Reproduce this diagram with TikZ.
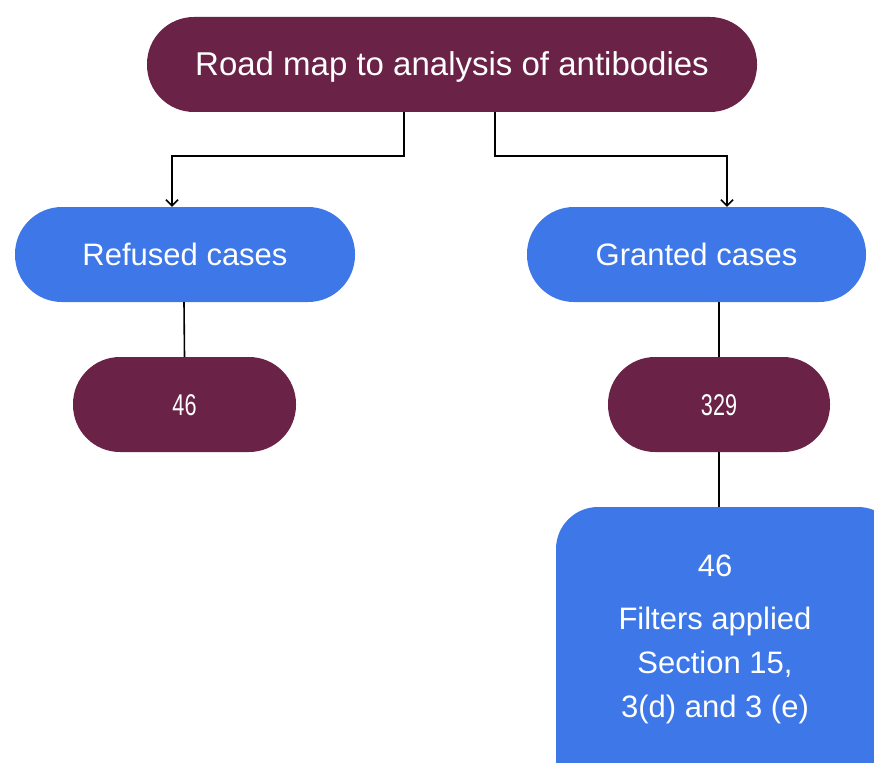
\documentclass[tikz,border=0pt]{standalone}
\usepackage{fontspec}
\usepackage{graphicx}
\setmainfont{Liberation Sans}
\usetikzlibrary{arrows.meta}
\definecolor{maroon}{HTML}{6A2246}
\definecolor{bblue}{HTML}{3E78E8}
\newcommand{\narrownum}[1]{\scalebox{0.72}[1]{#1}}
\tikzset{
  pill/.style={rectangle, rounded corners=47pt, minimum height=95pt, inner sep=0pt, text=white, text depth=0pt},
  maroonpill/.style={pill, fill=maroon},
  bluepill/.style={pill, fill=bblue},
  conn/.style={line width=1.6pt, black},
  arr/.style={conn, -{Straight Barb[length=6pt,width=12pt,line width=1.6pt]}},
}
\begin{document}
\begin{tikzpicture}[x=1pt,y=-1pt]
\useasboundingbox (0,0) rectangle (874,762);
\clip (0,0) rectangle (874,762);
\node[maroonpill, minimum width=610pt, text height=23pt, font=\fontsize{33}{40}\selectfont] (top) at (452,64.5) {Road map to analysis of antibodies};
\node[bluepill, minimum width=340pt, text height=22pt, font=\fontsize{31}{38}\selectfont] (refused) at (185,254.5) {Refused cases};
\node[bluepill, minimum width=339pt, text height=22pt, font=\fontsize{31}{38}\selectfont] (granted) at (696.5,254.5) {Granted cases};
\node[maroonpill, minimum width=223pt, text height=21pt, font=\fontsize{30}{36}\selectfont] (nref) at (184.5,404.5) {\narrownum{46}};
\node[maroonpill, minimum width=222pt, text height=21pt, font=\fontsize{30}{36}\selectfont] (ngr) at (719,404.5) {\narrownum{329}};
\node[rectangle, rounded corners=42pt, fill=bblue, minimum width=344pt, minimum height=300pt, inner sep=0pt] (filt) at (728,657) {};
\node[align=center, text=white, inner sep=0pt, font=\fontsize{31}{44}\selectfont] (filttxt) at (715,639) {46\\[9pt]Filters applied\\Section 15,\\3(d) and 3 (e)};
\draw[arr] ([xshift=-48pt]top.south) -- ++(0,44) -| ([xshift=-13pt]refused.north);
\draw[arr] ([xshift=43pt]top.south) -- ++(0,44) -| ([xshift=30.5pt]granted.north);
\draw[conn] ([xshift=-1pt]refused.south) -- (nref.north);
\draw[conn] (ngr.north |- granted.south) -- (ngr.north);
\draw[conn] (ngr.south) -- (ngr.south |- filt.north);
\end{tikzpicture}
\end{document}
